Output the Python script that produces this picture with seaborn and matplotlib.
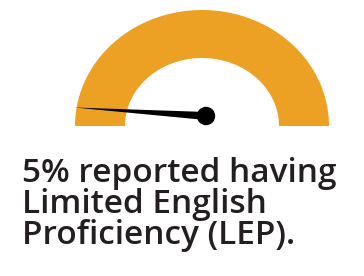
import numpy as np
import matplotlib
matplotlib.use("Agg")
import matplotlib.pyplot as plt
import seaborn as sns
import pandas as pd

# data
gauge_value = [5]            # percent
gauge_max = [100]
text_lines = ["5% reported having", "Limited English", "Proficiency (LEP)."]

sns.set_theme(style="white")
plt.rcParams['font.family'] = ['Open Sans', 'DejaVu Sans']

W, H = 364, 276
fig = plt.figure(figsize=(W / 100, H / 100), dpi=100)
ax = fig.add_axes([0, 0, 1, 1])
ax.set_xlim(0, W)
ax.set_ylim(H, 0)
ax.axis("off")

# gauge geometry (pixel space)
cx, cy = 202, 126
rx_out, ry_out = 127, 116
rx_in, ry_in = 77, 68
orange = "#EDA124"

t = np.linspace(0, np.pi, 200)
xo = cx + rx_out * np.cos(t)
yo = cy - ry_out * np.sin(t)
xi = cx + rx_in * np.cos(t[::-1])
yi = cy - ry_in * np.sin(t[::-1])
ax.fill(np.concatenate([xo, xi]), np.concatenate([yo, yi]), color=orange, lw=0)

# needle
frac = gauge_value[0] / gauge_max[0]
ang = np.pi * (1 - frac)
tipx = cx + 1.02 * rx_out * np.cos(ang)
tipy = cy - 1.02 * ry_out * np.sin(ang)
px, py = 206, 116
d = np.array([tipx - px, tipy - py])
d = d / np.linalg.norm(d)
perp = np.array([-d[1], d[0]])
hw = 4
poly_x = [px + perp[0] * hw, tipx, px - perp[0] * hw]
poly_y = [py + perp[1] * hw, tipy, py - perp[1] * hw]
ax.fill(poly_x, poly_y, color="black", lw=0)
pivot = pd.DataFrame({"x": [px], "y": [py]})
sns.scatterplot(data=pivot, x="x", y="y", ax=ax, s=175, color="black",
                edgecolor="none", legend=False)
ax.set_xlabel("")
ax.set_ylabel("")

# text
baselines = [182, 213, 244]
for line, yb in zip(text_lines, baselines):
    ax.text(22, yb, line, fontsize=24, fontweight="semibold", color="#231F20",
            va="baseline", ha="left")

fig.savefig("out.png", dpi=100)
